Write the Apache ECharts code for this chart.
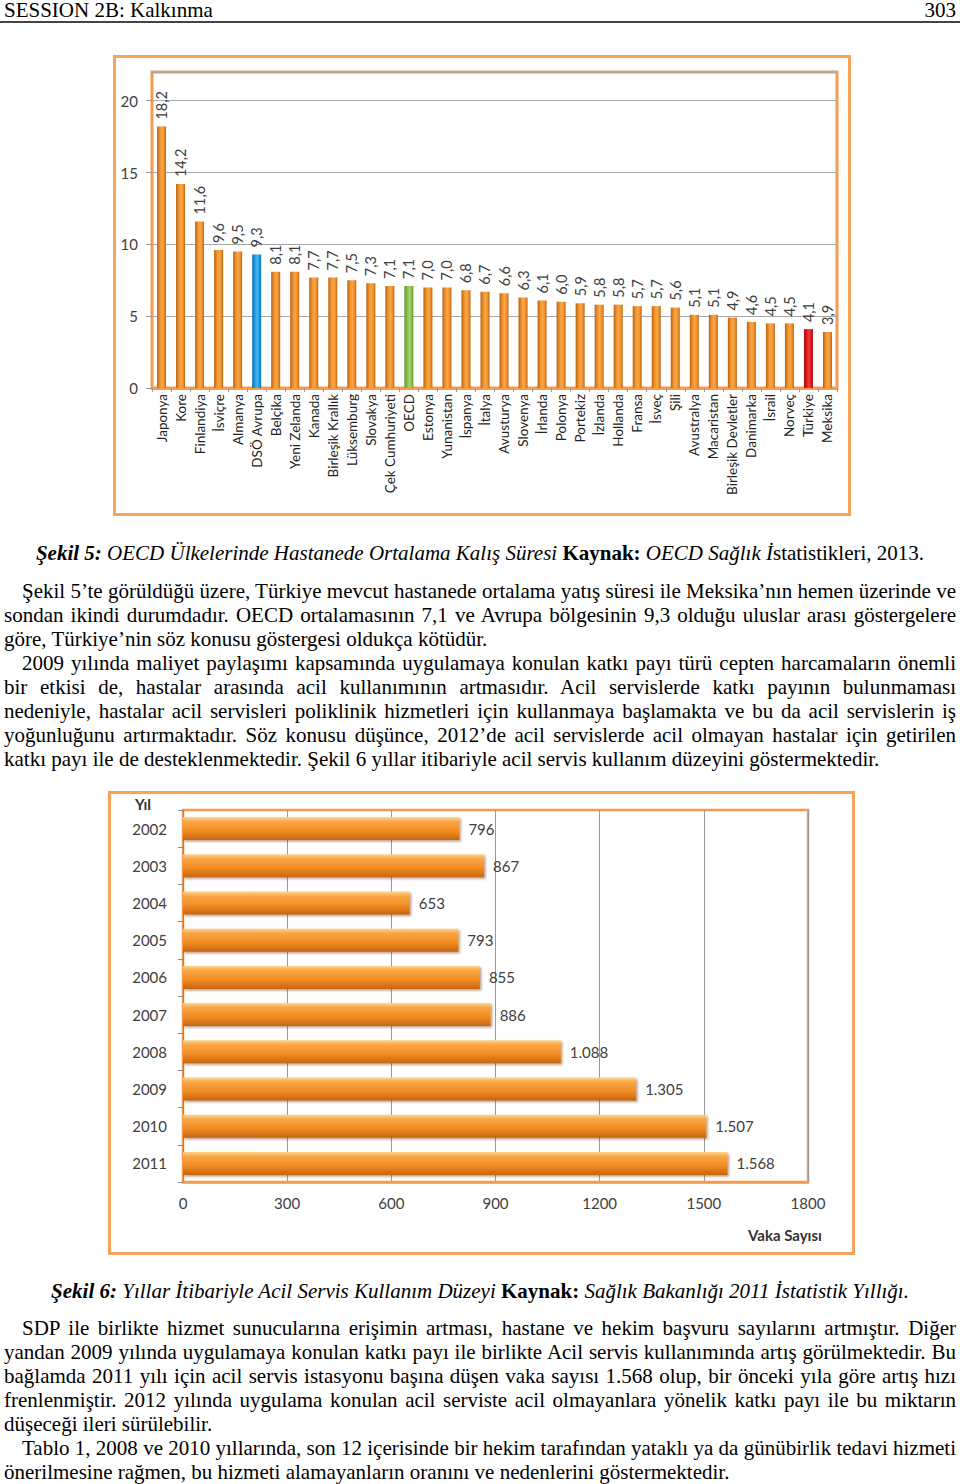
<!DOCTYPE html>
<html><head><meta charset="utf-8">
<script src="https://cdn.jsdelivr.net/npm/echarts@6/dist/echarts.min.js"></script>
<style>
html,body{margin:0;padding:0;background:#fff;}
body{width:960px;height:1484px;position:relative;overflow:hidden;font-family:"Liberation Serif","DejaVu Serif",serif;color:#000;}
.abs{position:absolute;}
.line{position:absolute;left:4px;width:952px;height:24px;line-height:24px;font-size:21px;white-space:nowrap;}
.j{text-align:justify;text-align-last:justify;white-space:normal;}
.ind{left:22px;width:934px;}
.cap{position:absolute;left:0;width:960px;text-align:center;font-size:21px;line-height:24px;white-space:nowrap;}
.box{position:absolute;box-sizing:border-box;border:3px solid #F6A35C;pointer-events:none;}
</style></head><body>
<div class="abs" style="left:4px;top:-2px;font-size:21px;line-height:24px;">SESSION 2B: Kalkınma</div>
<div class="abs" style="right:4px;top:-2px;font-size:21px;line-height:24px;">303</div>
<div class="abs" style="left:0;top:21px;width:960px;height:2px;background:#444;"></div>

<div id="c1" class="abs" style="left:113px;top:55px;width:738px;height:461px;"></div>
<div class="box" style="left:113px;top:55px;width:738px;height:461px;"></div>

<div class="cap" style="top:541px;"><b><i>Şekil 5:</i></b> <i>OECD Ülkelerinde Hastanede Ortalama Kalış Süresi</i> <b>Kaynak:</b> <i>OECD Sağlık İ</i>statistikleri, 2013.</div>

<div class="line j ind" style="top:579px;">Şekil 5’te görüldüğü üzere, Türkiye mevcut hastanede ortalama yatış süresi ile Meksika’nın hemen üzerinde ve</div>
<div class="line j" style="top:603px;">sondan ikindi durumdadır. OECD ortalamasının 7,1 ve Avrupa bölgesinin 9,3 olduğu uluslar arası göstergelere</div>
<div class="line" style="top:627px;">göre, Türkiye’nin söz konusu göstergesi oldukça kötüdür.</div>
<div class="line j ind" style="top:651px;">2009 yılında maliyet paylaşımı kapsamında uygulamaya konulan katkı payı türü cepten harcamaların önemli</div>
<div class="line j" style="top:675px;">bir etkisi de, hastalar arasında acil kullanımının artmasıdır. Acil servislerde katkı payının bulunmaması</div>
<div class="line j" style="top:699px;">nedeniyle, hastalar acil servisleri poliklinik hizmetleri için kullanmaya başlamakta ve bu da acil servislerin iş</div>
<div class="line j" style="top:723px;">yoğunluğunu artırmaktadır. Söz konusu düşünce, 2012’de acil servislerde acil olmayan hastalar için getirilen</div>
<div class="line" style="top:747px;">katkı payı ile de desteklenmektedir. Şekil 6 yıllar itibariyle acil servis kullanım düzeyini göstermektedir.</div>

<div id="c2" class="abs" style="left:108px;top:791px;width:747px;height:464px;"></div>
<div class="box" style="left:108px;top:791px;width:747px;height:464px;"></div>

<div class="cap" style="top:1279px;"><b><i>Şekil 6:</i></b> <i>Yıllar İtibariyle Acil Servis Kullanım Düzeyi</i> <b>Kaynak:</b> <i>Sağlık Bakanlığı 2011 İstatistik Yıllığı.</i></div>

<div class="line j ind" style="top:1316px;">SDP ile birlikte hizmet sunucularına erişimin artması, hastane ve hekim başvuru sayılarını artmıştır. Diğer</div>
<div class="line j" style="top:1340px;">yandan 2009 yılında uygulamaya konulan katkı payı ile birlikte Acil servis kullanımında artış görülmektedir. Bu</div>
<div class="line j" style="top:1364px;">bağlamda 2011 yılı için acil servis istasyonu başına düşen vaka sayısı 1.568 olup, bir önceki yıla göre artış hızı</div>
<div class="line j" style="top:1388px;">frenlenmiştir. 2012 yılında uygulama konulan acil serviste acil olmayanlara yönelik katkı payı ile bu miktarın</div>
<div class="line" style="top:1412px;">düşeceği ileri sürülebilir.</div>
<div class="line j ind" style="top:1436px;">Tablo 1, 2008 ve 2010 yıllarında, son 12 içerisinde bir hekim tarafından yataklı ya da günübirlik tedavi hizmeti</div>
<div class="line" style="top:1460px;">önerilmesine rağmen, bu hizmeti alamayanların oranını ve nedenlerini göstermektedir.</div>

<script>
// ---- Chart 1 data (Şekil 5) ----
const countries = ["Japonya","Kore","Finlandiya","İsviçre","Almanya","DSÖ Avrupa","Belçika","Yeni Zelanda","Kanada","Birleşik Krallık","Lüksemburg","Slovakya","Çek Cumhuriyeti","OECD","Estonya","Yunanistan","İspanya","İtalya","Avusturya","Slovenya","İrlanda","Polonya","Portekiz","İzlanda","Hollanda","Fransa","İsveç","Şili","Avustralya","Macaristan","Birleşik Devletler","Danimarka","İsrail","Norveç","Türkiye","Meksika"];
const stayDays = [18.2,14.2,11.6,9.6,9.5,9.3,8.1,8.1,7.7,7.7,7.5,7.3,7.1,7.1,7.0,7.0,6.8,6.7,6.6,6.3,6.1,6.0,5.9,5.8,5.8,5.7,5.7,5.6,5.1,5.1,4.9,4.6,4.5,4.5,4.1,3.9];
const yTicks1 = [0,5,10,15,20];
const specialBars = {"DSÖ Avrupa":"blue","OECD":"green","Türkiye":"red"};

// ---- Chart 2 data (Şekil 6) ----
const years = ["2002","2003","2004","2005","2006","2007","2008","2009","2010","2011"];
const caseCounts = [796,867,653,793,855,886,1088,1305,1507,1568];
const xTicks2 = [0,300,600,900,1200,1500,1800];

const FONT = "Lato, 'Open Sans', sans-serif";
const ORANGE_BORDER = '#F59B4E';

function hGrad(edge, mid, light){
  return new echarts.graphic.LinearGradient(0,0,1,0,[
    {offset:0,color:edge},{offset:0.3,color:mid},{offset:0.55,color:light},{offset:0.8,color:mid},{offset:1,color:edge}]);
}
const palettes = {
  orange: hGrad('#B96210','#EE8F2C','#F8A848'),
  blue: hGrad('#0F6FB0','#1E98DE','#45B6F2'),
  green: hGrad('#5F9230','#86BF4A','#A3D26A'),
  red: hGrad('#A80E12','#DC1A20','#F03A3A')
};

const c1 = echarts.init(document.getElementById('c1'), null, {renderer:'svg'});
c1.setOption({
  animation:false,
  grid:{left:39,top:17,right:14,bottom:128,show:true,borderColor:ORANGE_BORDER,borderWidth:3,containLabel:false},
  xAxis:{type:'category',data:countries,
    axisLine:{lineStyle:{color:ORANGE_BORDER,width:3}},
    axisTick:{show:true,length:4,lineStyle:{color:'#999'}},
    axisLabel:{interval:0,rotate:90,margin:6,fontFamily:FONT,fontSize:13.5,color:'#222'}},
  yAxis:{type:'value',min:0,max:22,interval:5,
    axisLine:{show:false},
    axisTick:{show:true,length:6,lineStyle:{color:'#999'}},
    axisLabel:{showMaxLabel:false,margin:14,fontFamily:FONT,fontSize:15,color:'#404040',
      formatter:v=>yTicks1.includes(v)?String(v):''},
    splitLine:{lineStyle:{color:'#A8A8A8',width:1}}},
  series:[{type:'bar',barWidth:9,
    data:stayDays.map((v,i)=>({value:v,itemStyle:{color:palettes[specialBars[countries[i]]||'orange']}})),
    label:{show:true,position:'top',rotate:90,align:'left',verticalAlign:'middle',distance:7,
      fontFamily:FONT,fontSize:14.5,color:'#404040',
      formatter:p=>p.value.toFixed(1).replace('.',',')}}]
});

const vGrad = new echarts.graphic.LinearGradient(0,0,0,1,[
  {offset:0,color:'#FDD68E'},{offset:0.2,color:'#F9A647'},{offset:0.6,color:'#F28C22'},{offset:1,color:'#C8650F'}]);

const c2 = echarts.init(document.getElementById('c2'), null, {renderer:'svg'});
c2.setOption({
  animation:false,
  grid:{left:75,top:19,right:47,bottom:73,show:true,borderColor:ORANGE_BORDER,borderWidth:2.5},
  xAxis:{type:'value',min:0,max:1800,interval:300,
    axisLine:{show:true,lineStyle:{color:ORANGE_BORDER,width:2.5}},
    axisTick:{show:false},
    axisLabel:{margin:13,fontFamily:FONT,fontSize:15,color:'#404040',
      formatter:v=>xTicks2.includes(v)?String(v):''},
    splitLine:{lineStyle:{color:'#9A9A9A',width:1}}},
  yAxis:{type:'category',data:years,inverse:true,
    axisLine:{lineStyle:{color:'#8A8A8A',width:1}},
    axisTick:{show:true,length:5,lineStyle:{color:'#8A8A8A'}},
    axisLabel:{margin:16,fontFamily:FONT,fontSize:15,color:'#404040'}},
  graphic:[
    {type:'text',left:27,top:5,style:{text:'Yıl',font:"bold 15px "+FONT,fill:'#333'}},
    {type:'text',left:640,top:436,style:{text:'Vaka Sayısı',font:"bold 15px "+FONT,fill:'#333'}}
  ],
  series:[{type:'bar',barWidth:23,data:caseCounts,
    itemStyle:{color:vGrad,shadowColor:'rgba(90,40,0,0.45)',shadowBlur:2,shadowOffsetX:1.5,shadowOffsetY:1.5},
    label:{show:true,position:'right',distance:9,fontFamily:FONT,fontSize:15,color:'#404040',
      formatter:p=>String(p.value).replace(/\B(?=(\d{3})+(?!\d))/g,'.')}}]
});
</script>
</body></html>
